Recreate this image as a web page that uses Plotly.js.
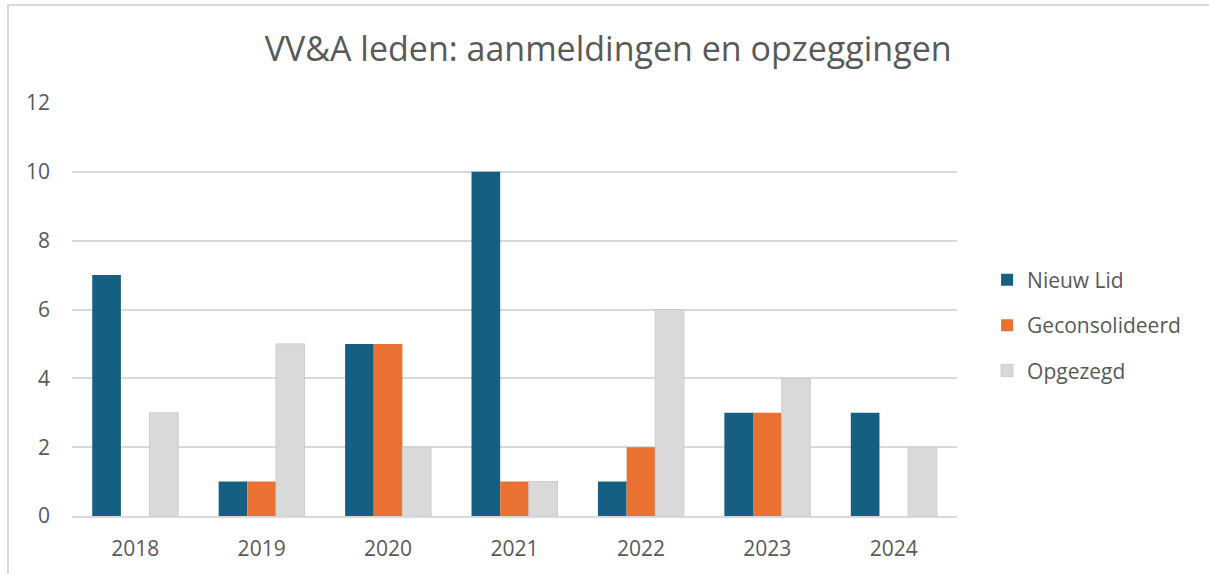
<!DOCTYPE html>
<html>
<head>
<meta charset="utf-8">
<script src="https://cdn.plot.ly/plotly-3.0.1.min.js"></script>
<style>
  html, body { margin: 0; padding: 0; background: #fff; overflow: hidden; }
  #chart { position: absolute; left: 0; top: 0; width: 1209px; height: 574px; }
  #frame { position: absolute; left: 7px; top: 4px; width: 1400px; height: 800px;
           border-left: 2px solid #d9d9d9; border-top: 2px solid #d9d9d9; pointer-events: none; }
</style>
</head>
<body>
<div id="chart"></div>
<div id="frame"></div>
<script>
const years = ['2018', '2019', '2020', '2021', '2022', '2023', '2024'];
const nieuwLid = [7, 1, 5, 10, 1, 3, 3];
const geconsolideerd = [0, 1, 5, 1, 2, 3, 0];
const opgezegd = [3, 5, 2, 1, 6, 4, 2];
const seriesNames = ['Nieuw Lid', 'Geconsolideerd', 'Opgezegd'];
const titleText = 'VV&A leden: aanmeldingen en opzeggingen';
const yTicks = [0, 2, 4, 6, 8, 10, 12];

const fontFam = '"Open Sans", "Liberation Sans", sans-serif';
const textColor = '#595959';

const traces = [
  { name: seriesNames[0], y: nieuwLid, color: '#156082', line: '#156082', lw: 0 },
  { name: seriesNames[1], y: geconsolideerd, color: '#e97132', line: '#e97132', lw: 0 },
  { name: seriesNames[2], y: opgezegd, color: '#d9d9d9', line: '#cdcdcd', lw: 1 }
].map((s, i) => ({
  type: 'bar',
  x: years,
  y: s.y,
  name: s.name,
  legendgroup: 'g' + i,
  marker: { color: s.color, line: { color: s.line, width: s.y.map(v => v === 0 ? 0 : s.lw) } },
  hoverinfo: 'x+y+name'
}));

const layout = {
  width: 1209,
  height: 574,
  margin: { l: 72, r: 252, t: 103, b: 58 },
  paper_bgcolor: '#ffffff',
  plot_bgcolor: '#ffffff',
  barmode: 'group',
  bargap: 0.32,
  bargroupgap: 0,
  font: { family: fontFam, color: textColor, size: 21 },
  title: {
    text: titleText,
    x: 0.503, xref: 'container', xanchor: 'center',
    y: 0.914, yref: 'container', yanchor: 'middle',
    font: { family: fontFam, size: 34, color: textColor }
  },
  xaxis: {
    type: 'category',
    showgrid: false,
    showline: true,
    linecolor: '#d9d9d9',
    linewidth: 2,
    ticks: '',
    tickfont: { size: 21, color: textColor },
    ticklabelstandoff: 13,
    zeroline: false
  },
  yaxis: {
    range: [0, 12],
    tickvals: yTicks,
    ticktext: yTicks.map(String),
    showgrid: true,
    gridcolor: '#d9d9d9',
    gridwidth: 2,
    zeroline: false,
    showline: false,
    ticks: '',
    tickfont: { size: 21, color: textColor },
    ticklabelstandoff: 21
  },
  showlegend: true,
  legend: {
    x: 1.034, xanchor: 'left',
    y: 0.462, yanchor: 'middle',
    orientation: 'v',
    traceorder: 'grouped',
    tracegroupgap: 15,
    font: { size: 21, color: textColor },
    itemwidth: 30,
    bgcolor: 'rgba(0,0,0,0)'
  }
};

Plotly.newPlot('chart', traces, layout, { displayModeBar: false, staticPlot: true });
</script>
</body>
</html>
